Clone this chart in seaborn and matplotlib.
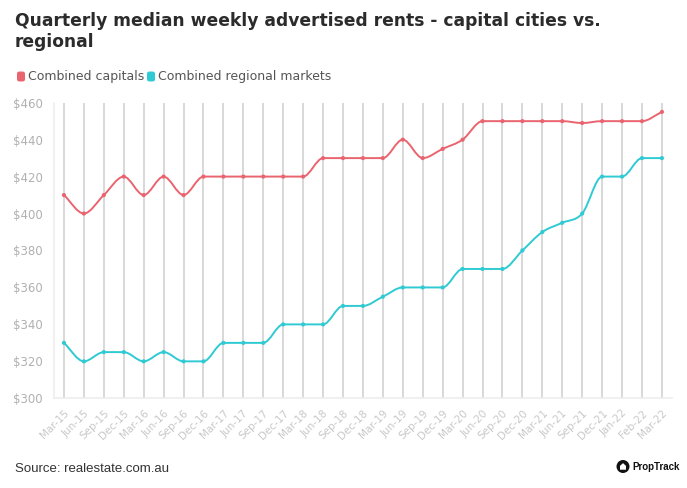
import numpy as np
import pandas as pd
import matplotlib
matplotlib.use("Agg")
import matplotlib.pyplot as plt
from matplotlib.path import Path
from matplotlib.patches import PathPatch, FancyBboxPatch, Ellipse, Polygon
import seaborn as sns

quarters = ["Mar-15", "Jun-15", "Sep-15", "Dec-15", "Mar-16", "Jun-16", "Sep-16", "Dec-16",
            "Mar-17", "Jun-17", "Sep-17", "Dec-17", "Mar-18", "Jun-18", "Sep-18", "Dec-18",
            "Mar-19", "Jun-19", "Sep-19", "Dec-19", "Mar-20", "Jun-20", "Sep-20", "Dec-20",
            "Mar-21", "Jun-21", "Sep-21", "Dec-21", "Jan-22", "Feb-22", "Mar-22"]
capitals = [410, 400, 410, 420, 410, 420, 410, 420,
            420, 420, 420, 420, 420, 430, 430, 430,
            430, 440, 430, 435, 440, 450, 450, 450,
            450, 450, 449, 450, 450, 450, 455]
regional = [330, 320, 325, 325, 320, 325, 320, 320,
            330, 330, 330, 340, 340, 340, 350, 350,
            355, 360, 360, 360, 370, 370, 370, 380,
            390, 395, 400, 420, 420, 430, 430]
series_names = ["Combined capitals", "Combined regional markets"]
colors = ["#ea6470", "#2fcad3"]
yticks = [300, 320, 340, 360, 380, 400, 420, 440, 460]

sns.set_theme(style="white")
plt.rcParams["font.family"] = ["DejaVu Sans"]

fig = plt.figure(figsize=(6.87, 4.88), dpi=100)
ax = fig.add_axes([0.0786, 0.1838, 0.978 - 0.0786, 0.7896 - 0.1838])

df = pd.DataFrame({
    "x": list(range(len(quarters))) * 2,
    "value": capitals + regional,
    "series": [series_names[0]] * len(quarters) + [series_names[1]] * len(quarters),
})


def monotone_path(xs, ys):
    xs = np.asarray(xs, float)
    ys = np.asarray(ys, float)
    n = len(xs)
    h = np.diff(xs)
    d = np.diff(ys) / h
    m = np.zeros(n)
    m[0] = d[0]
    m[-1] = d[-1]
    for k in range(1, n - 1):
        m[k] = 0.0 if d[k - 1] * d[k] <= 0 else (d[k - 1] + d[k]) / 2
    for k in range(n - 1):
        if d[k] == 0:
            m[k] = 0.0
            m[k + 1] = 0.0
            continue
        a = m[k] / d[k]
        b = m[k + 1] / d[k]
        s = a * a + b * b
        if s > 9:
            t = 3 / np.sqrt(s)
            m[k] = t * a * d[k]
            m[k + 1] = t * b * d[k]
    verts = [(xs[0], ys[0])]
    codes = [Path.MOVETO]
    for k in range(n - 1):
        dx = h[k] / 3
        verts += [(xs[k] + dx, ys[k] + m[k] * dx),
                  (xs[k + 1] - dx, ys[k + 1] - m[k + 1] * dx),
                  (xs[k + 1], ys[k + 1])]
        codes += [Path.CURVE4] * 3
    return Path(verts, codes)


# vertical grid lines
for i in range(len(quarters)):
    ax.axvline(i, color="#d6d6d6", lw=1.3, zorder=0)

for name, col in zip(series_names, colors):
    sub = df[df["series"] == name]
    ax.add_patch(PathPatch(monotone_path(sub["x"], sub["value"]), facecolor="none",
                           edgecolor=col, lw=1.4, zorder=2))

sns.scatterplot(data=df, x="x", y="value", hue="series", palette=colors, s=9,
                edgecolor="none", legend=False, ax=ax, zorder=3)

ax.set_xlim(-0.5, 30.5)
ax.set_ylim(300, 460)
ax.set_yticks(yticks)
ax.set_yticklabels([f"${v}" for v in yticks])
ax.set_xticks(range(len(quarters)))
ax.set_xticklabels(quarters, rotation=45, ha="right", rotation_mode="anchor")
ax.set_xlabel("")
ax.set_ylabel("")
for s in ["top", "right"]:
    ax.spines[s].set_visible(False)
for s in ["left", "bottom"]:
    ax.spines[s].set_color("#ededed")
    ax.spines[s].set_linewidth(1.2)
ax.tick_params(axis="y", length=6, width=1, color="#ededed", labelsize=8.5, pad=2)
ax.tick_params(axis="x", length=0, labelsize=7.5, pad=7)
for lab in ax.get_yticklabels():
    lab.set_color("#b0b0b0")
for lab in ax.get_xticklabels():
    lab.set_color("#c8c8c8")

fig.text(15 / 687, 1 - 12 / 488, "Quarterly median weekly advertised rents - capital cities vs.\nregional",
         fontsize=12.3, fontweight="bold", color="#2b2b2b", va="top", ha="left",
         linespacing=1.2)

# legend
for name, col, x0 in zip(series_names, colors, [17, 147]):
    fig.patches.append(FancyBboxPatch((x0 / 687, 1 - 81.5 / 488), 8 / 687, 10 / 488,
                                      boxstyle="round,pad=0,rounding_size=0.004",
                                      transform=fig.transFigure, facecolor=col,
                                      edgecolor="none"))
    fig.text((x0 + 11) / 687, 1 - 76.5 / 488, name, fontsize=9, color="#555555",
             va="center", ha="left")

fig.text(15 / 687, 1 - 469 / 488, "Source: realestate.com.au", fontsize=9.5,
         color="#333333", va="center", ha="left", family=["Liberation Sans"])

# PropTrack mark
cx, cy = 623 / 687, 1 - 466.5 / 488
fig.patches.append(Ellipse((cx, cy), 13 / 687, 13 / 488, transform=fig.transFigure,
                           facecolor="#111111", edgecolor="none"))
house = [(-3.0, -3.2), (3.0, -3.2), (3.0, 0.6), (0, 3.4), (-3.0, 0.6)]
fig.patches.append(Polygon([(cx + px / 687, cy + py / 488) for px, py in house], closed=True,
                           transform=fig.transFigure, facecolor="white", edgecolor="none"))
fig.text(632 / 687, cy, "PropTrack", fontsize=7, fontweight="bold",
         color="#111111", va="center", ha="left", family=["Liberation Sans"])

fig.savefig("out.png", dpi=100, facecolor="white")
